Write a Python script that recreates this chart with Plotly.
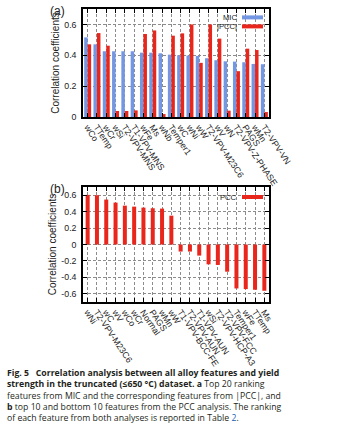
import plotly.graph_objects as go

# ---- data ----
feat_a = ["wCo", "TTemp", "wCr", "wSi", "T2-VPV-MNS", "T1-VPV-MNS", "wFe", "Ms", "wNb",
          "Temper1", "wC", "wNi", "wW", "T2-VPV-M23C6", "wV", "wN", "T2-VPV-Z-PHASE",
          "PAGS", "wMn", "T2-VPV-VN"]
mic = [0.516, 0.471, 0.426, 0.426, 0.426, 0.426, 0.417, 0.417, 0.413, 0.404,
       0.400, 0.398, 0.396, 0.381, 0.368, 0.361, 0.359, 0.355, 0.344, 0.342]
abs_pcc = [0.471, 0.544, 0.462, 0.039, 0.039, 0.043, 0.538, 0.561, 0.019, 0.527,
           0.542, 0.600, 0.351, 0.600, 0.508, 0.041, 0.297, 0.443, 0.434, 0.032]

feat_b = ["wNi", "T2-VPV-M23C6", "wC", "wV", "wCo", "wCr", "Normal", "PAGS", "wMn", "wW",
          "T1-VPV-BCC-FE", "T2-VPV-AUN", "T1-VPV-AUN", "wSi", "T2-VPV-HCP-A3",
          "T2-VPV-FCC", "Temper1", "wFe", "TTemp", "Ms"]
pcc = [0.604, 0.600, 0.547, 0.510, 0.473, 0.461, 0.449, 0.441, 0.437, 0.351,
       -0.086, -0.086, -0.135, -0.241, -0.249, -0.331, -0.535, -0.543, -0.551, -0.563]

BLUE = "#7497e3"
RED = "#e8261c"
W, H = 340, 433
FONT = "Liberation Sans"

# plot-area box in pixels
L, R, T, B = 83, 269, 9, 302

def px(x):
    return (x - L) / (R - L)

def py(y):
    return 1 - (y - T) / (B - T)

fig = go.Figure()
fig.add_trace(go.Bar(x=feat_a, y=mic, name="MIC", marker_color=BLUE,
                     marker_line_width=0, xaxis="x", yaxis="y", showlegend=False))
fig.add_trace(go.Bar(x=feat_a, y=abs_pcc, name="|PCC|", marker_color=RED,
                     marker_line_width=0, xaxis="x", yaxis="y", showlegend=False))
fig.add_trace(go.Bar(x=feat_b, y=pcc, name="PCC", marker_color=RED, width=0.43,
                     marker_line_width=0, xaxis="x2", yaxis="y2", showlegend=False))

axis_common = dict(
    showline=True, linecolor="black", linewidth=1.5, mirror="allticks",
    ticks="inside", tickcolor="black", ticklen=4, tickwidth=1,
    showgrid=True, gridcolor="#8c8c8c", griddash="3px,2px", gridwidth=1,
    zeroline=False, automargin=False,
    tickfont=dict(family=FONT, size=8.8, color="#222"),
)
title_font = dict(family=FONT, size=10, color="#222")

fig.update_layout(
    width=W, height=H,
    margin=dict(l=L, r=W - R, t=T, b=H - B, autoexpand=False),
    paper_bgcolor="white", plot_bgcolor="white",
    barmode="group", bargap=0.25, bargroupgap=0.0,
    font=dict(family=FONT, color="#222"),
    xaxis=dict(domain=[0, 1], anchor="y", tickangle=56, tickmode="array",
               tickvals=feat_a, ticktext=feat_a, **axis_common),
    yaxis=dict(domain=[py(117), 1], anchor="x", range=[0, 0.7],
               tickvals=[0, 0.2, 0.4, 0.6], ticktext=["0", "0.2", "0.4", "0.6"],
               ticklabelstandoff=3,
               title=dict(text="Correlation coefficients", standoff=3, font=title_font),
               **axis_common),
    xaxis2=dict(domain=[0, 1], anchor="y2", tickangle=56, tickmode="array",
                tickvals=feat_b, ticktext=feat_b, **axis_common),
    yaxis2=dict(domain=[0, py(187)], anchor="x2", range=[-0.7, 0.7],
                tickvals=[-0.6, -0.4, -0.2, 0, 0.2, 0.4, 0.6],
                ticktext=["-0.6", "-0.4", "-0.2", "0", "0.2", "0.4", "0.6"],
                ticklabelstandoff=3,
                title=dict(text="Correlation coefficients", standoff=3, font=title_font),
                **axis_common),
)

annotations = []
shapes = []

# panel labels
for lab, yy in (("(a)", 11), ("(b)", 189)):
    annotations.append(dict(text=lab, x=px(48), y=py(yy), xref="paper", yref="paper",
                            xanchor="left", yanchor="middle", showarrow=False,
                            font=dict(family=FONT, size=12, color="#222")))

# gnuplot-like legends (text right-aligned, then a sample line)
def legend_entry(label, color, yc):
    annotations.append(dict(text=label, x=px(238), y=py(yc), xref="paper", yref="paper",
                            xanchor="right", yanchor="middle", showarrow=False,
                            borderpad=0,
                            font=dict(family=FONT, size=7.6, color="#222")))
    shapes.append(dict(type="line", xref="paper", yref="paper",
                       x0=px(242), x1=px(263), y0=py(yc), y1=py(yc),
                       line=dict(color=color, width=4)))

legend_entry("MIC", BLUE, 17.4)
legend_entry("|PCC|", RED, 26.4)
legend_entry("PCC", RED, 197)

# caption (one text block)
CAP = "Open Sans"
CAPC = "#231f20"
cap_lines = [
    "<b>Fig. 5   Correlation analysis between all alloy features and yield</b>",
    "<b>strength in the truncated (≤650 °C) dataset. a</b> Top 20 ranking",
    "features from MIC and the corresponding features from |PCC|, and",
    "<b>b</b> top 10 and bottom 10 features from the PCC analysis. The ranking",
    "of each feature from both analyses is reported in Table <span style='color:#1a5fb4'>2</span>.",
]
annotations.append(dict(text="<br>".join(cap_lines), x=px(6), y=py(395), xref="paper",
                        yref="paper", xanchor="left", yanchor="middle", align="left",
                        showarrow=False, borderpad=0,
                        font=dict(family=CAP, size=8.7, color=CAPC)))

fig.update_layout(annotations=annotations, shapes=shapes)
fig.write_html("out.html")
